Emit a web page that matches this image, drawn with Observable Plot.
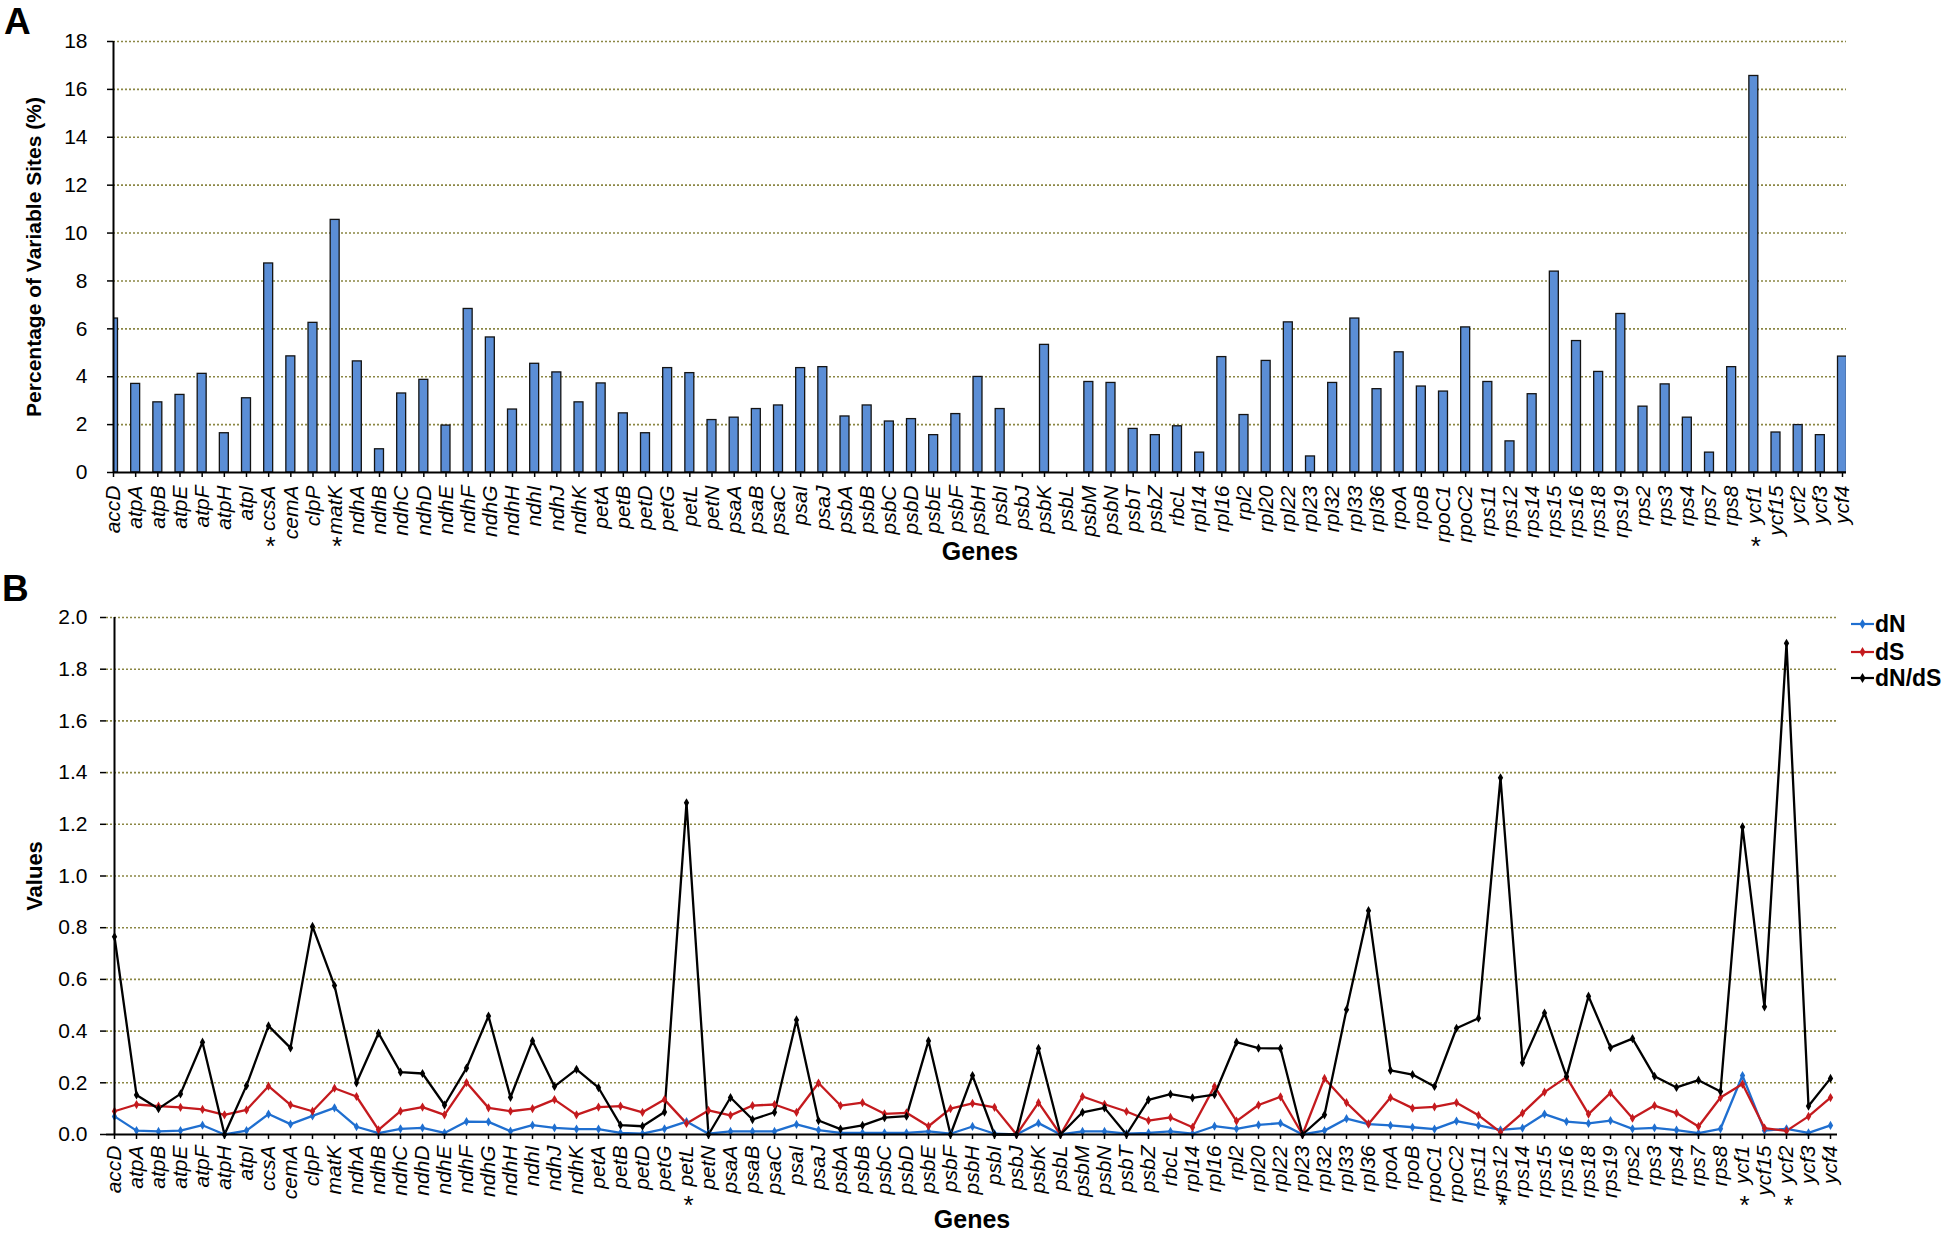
<!DOCTYPE html>
<html><head><meta charset="utf-8">
<script src="https://cdn.jsdelivr.net/npm/d3@7"></script>
<script src="https://cdn.jsdelivr.net/npm/@observablehq/plot@0.6"></script>
<style>
html,body{margin:0;padding:0;background:#fff;}
body{width:1946px;height:1235px;overflow:hidden;position:relative;font-family:"Liberation Sans",Arial,sans-serif;}
#a{position:absolute;left:0;top:0}
#b{position:absolute;left:0;top:565px}
.plabel{position:absolute;font-weight:bold;font-size:37px;line-height:1;color:#000}
#legend{position:absolute;left:1846px;top:605px}
g[aria-label="x-axis tick label"] text{font-style:italic}
</style>
</head><body>
<div id="a"></div>
<div id="b"></div>
<div class="plabel" style="left:4px;top:3px">A</div>
<div class="plabel" style="left:2px;top:570px">B</div>
<svg id="legend" width="100" height="90"></svg>
<script>
const genes = ["accD","atpA","atpB","atpE","atpF","atpH","atpI","ccsA","cemA","clpP","matK","ndhA","ndhB","ndhC","ndhD","ndhE","ndhF","ndhG","ndhH","ndhI","ndhJ","ndhK","petA","petB","petD","petG","petL","petN","psaA","psaB","psaC","psaI","psaJ","psbA","psbB","psbC","psbD","psbE","psbF","psbH","psbI","psbJ","psbK","psbL","psbM","psbN","psbT","psbZ","rbcL","rpl14","rpl16","rpl2","rpl20","rpl22","rpl23","rpl32","rpl33","rpl36","rpoA","rpoB","rpoC1","rpoC2","rps11","rps12","rps14","rps15","rps16","rps18","rps19","rps2","rps3","rps4","rps7","rps8","ycf1","ycf15","ycf2","ycf3","ycf4"];

// Panel A: percentage of variable sites (%)
const variableSites = [6.43,3.70,2.93,3.24,4.12,1.64,3.10,8.73,4.85,6.25,10.55,4.64,0.97,3.30,3.87,1.96,6.83,5.64,2.63,4.54,4.18,2.93,3.72,2.47,1.64,4.36,4.15,2.19,2.29,2.65,2.80,4.36,4.40,2.34,2.80,2.13,2.23,1.56,2.44,3.99,2.65,0,5.33,0,3.78,3.74,1.82,1.56,1.93,0.83,4.82,2.40,4.66,6.27,0.67,3.74,6.43,3.48,5.02,3.59,3.38,6.06,3.78,1.30,3.27,8.39,5.49,4.20,6.62,2.75,3.68,2.29,0.83,4.40,16.56,1.67,1.98,1.56,4.84];

// Panel B
const dN = [0.070,0.015,0.012,0.015,0.036,0,0.015,0.079,0.040,0.072,0.103,0.030,0.005,0.022,0.026,0.006,0.050,0.049,0.013,0.036,0.026,0.021,0.021,0.006,0.003,0.022,0.050,0.003,0.012,0.012,0.012,0.039,0.017,0.006,0.006,0.006,0.006,0.012,0.003,0.031,0.003,0,0.044,0,0.012,0.012,0.003,0.006,0.012,0.003,0.032,0.022,0.037,0.044,0,0.015,0.061,0.040,0.035,0.028,0.021,0.052,0.035,0.018,0.025,0.079,0.050,0.043,0.054,0.022,0.026,0.017,0.005,0.022,0.228,0.015,0.022,0.006,0.035];
const dS = [0.090,0.116,0.110,0.105,0.097,0.076,0.095,0.187,0.115,0.090,0.179,0.147,0.018,0.090,0.106,0.076,0.201,0.103,0.090,0.100,0.135,0.076,0.106,0.110,0.086,0.135,0.043,0.093,0.074,0.112,0.116,0.086,0.199,0.112,0.123,0.080,0.084,0.032,0.100,0.120,0.105,0,0.123,0,0.147,0.117,0.089,0.054,0.066,0.028,0.186,0.052,0.114,0.146,0,0.217,0.123,0.041,0.143,0.102,0.107,0.123,0.074,0.009,0.083,0.164,0.222,0.079,0.161,0.063,0.112,0.083,0.031,0.143,0.195,0.025,0.014,0.070,0.143];
const dNdS = [0.765,0.153,0.100,0.157,0.357,0,0.189,0.420,0.335,0.805,0.576,0.200,0.392,0.241,0.236,0.114,0.257,0.458,0.144,0.362,0.186,0.252,0.181,0.036,0.032,0.087,1.283,0,0.143,0.058,0.086,0.443,0.054,0.021,0.035,0.065,0.071,0.362,0,0.228,0,0,0.333,0,0.086,0.103,0,0.134,0.156,0.142,0.154,0.357,0.334,0.333,0,0.076,0.483,0.866,0.248,0.232,0.186,0.411,0.450,1.380,0.278,0.470,0.224,0.535,0.336,0.371,0.225,0.182,0.210,0.166,1.190,0.494,1.900,0.110,0.217];

const starsA = ["ccsA","matK","ycf1"];
const starsB = ["petL","rps12","ycf1","ycf2"];
const yTicksA = [0,2,4,6,8,10,12,14,16,18];
const yTicksB = [0,0.2,0.4,0.6,0.8,1.0,1.2,1.4,1.6,1.8,2.0];

const seriesNames = ["dN","dS","dN/dS"];
const seriesColors = ["#1f6fd0","#c41a1e","#000000"];

const FONT = "Liberation Sans, Arial, sans-serif";
const GRID = "#8b8744";

// ---------- Panel A ----------
const rowsA = genes.map((g, i) => ({gene: g, value: variableSites[i]}));
const W = 1946;
const aLeft = 113, aRight = 1842;
const stepA = (aRight - aLeft) / (genes.length - 1);

const chartA = Plot.plot({
  width: W, height: 565,
  marginTop: 41, marginBottom: 93, marginLeft: aLeft, marginRight: W - (aRight + 4),
  style: {fontFamily: FONT, fontSize: "21px", color: "#000", background: "transparent", overflow: "visible"},
  x: {type: "band", domain: genes, range: [aLeft - stepA / 2, aRight + stepA / 2], padding: 0, round: false},
  y: {domain: [0, 18]},
  marks: [
    Plot.gridY(yTicksA.filter(d => d > 0), {stroke: GRID, strokeOpacity: 1, strokeWidth: 1.6, strokeDasharray: "2,2"}),
    Plot.barY(rowsA, {x: "gene", y: "value", fill: "#5b8ed6", stroke: "#141414", strokeWidth: 1.3, insetLeft: 6.6, insetRight: 6.6, clip: true}),
    Plot.ruleY([0], {stroke: "#000", strokeWidth: 2}),
    Plot.ruleX(["accD"], {x: d => d, stroke: "#000", strokeWidth: 2}),
    Plot.axisY({ticks: yTicksA, tickSize: 6, tickPadding: 20, fontSize: 21, label: null, strokeWidth: 1.5}),
    Plot.axisX({tickRotate: -90, tickSize: 5, tickPadding: 8, fontSize: 21, fontStyle: "italic", label: null, strokeWidth: 1.5}),
    Plot.text(starsA, {x: d => d, text: () => "*", frameAnchor: "bottom", dy: 82, dx: 2, fontSize: 26}),
    Plot.text(["Genes"], {text: d => d, frameAnchor: "bottom", dy: 87, fontSize: 25, fontWeight: "bold"}),
    Plot.text(["Percentage of Variable Sites (%)"], {text: d => d, frameAnchor: "left", textAnchor: "middle", dx: -79, rotate: -90, fontSize: 21, fontWeight: "bold"})
  ]
});
document.getElementById("a").appendChild(chartA);

// ---------- Panel B ----------
const rowsB = [];
genes.forEach((g, i) => {
  rowsB.push({gene: g, series: "dN", value: dN[i]});
  rowsB.push({gene: g, series: "dS", value: dS[i]});
  rowsB.push({gene: g, series: "dN/dS", value: dNdS[i]});
});
const bLeft = 106, bRight = 1837;

const chartB = Plot.plot({
  width: W, height: 670,
  marginTop: 52, marginBottom: 101, marginLeft: bLeft, marginRight: W - bRight,
  style: {fontFamily: FONT, fontSize: "21px", color: "#000", background: "transparent", overflow: "visible"},
  x: {type: "point", domain: genes, padding: 0},
  y: {domain: [0, 2]},
  color: {domain: seriesNames, range: seriesColors},
  marks: [
    Plot.gridY(yTicksB.filter(d => d > 0), {stroke: GRID, strokeOpacity: 1, strokeWidth: 1.6, strokeDasharray: "2,2"}),
    Plot.lineY(rowsB, {x: "gene", y: "value", z: "series", stroke: "series", strokeWidth: 2.3, strokeLinejoin: "miter"}),
    Plot.dot(rowsB, {x: "gene", y: "value", fill: "series", r: 2.8, symbol: "diamond"}),
    Plot.ruleY([0], {stroke: "#000", strokeWidth: 2}),
    Plot.ruleX(["accD"], {x: d => d, stroke: "#000", strokeWidth: 2}),
    Plot.axisY({ticks: yTicksB, tickFormat: d3.format(".1f"), tickSize: 6, tickPadding: 13, fontSize: 21, label: null, strokeWidth: 1.5}),
    Plot.axisX({tickRotate: -90, tickSize: 5, tickPadding: 6, fontSize: 21, fontStyle: "italic", label: null, strokeWidth: 1.5}),
    Plot.text(starsB, {x: d => d, text: () => "*", frameAnchor: "bottom", dy: 79, dx: 2, fontSize: 26}),
    Plot.text(["Genes"], {text: d => d, frameAnchor: "bottom", dy: 93, fontSize: 25, fontWeight: "bold"}),
    Plot.text(["Values"], {text: d => d, frameAnchor: "left", textAnchor: "middle", dx: -72, rotate: -90, fontSize: 22, fontWeight: "bold"})
  ]
});
document.getElementById("b").appendChild(chartB);

// ---------- Legend ----------
const lg = d3.select("#legend");
const rowY = [19, 47, 73];
seriesNames.forEach((name, i) => {
  const g = lg.append("g").attr("transform", `translate(0,${rowY[i]})`);
  g.append("line").attr("x1", 5).attr("x2", 28).attr("y1", 0).attr("y2", 0)
    .attr("stroke", seriesColors[i]).attr("stroke-width", 2.2);
  g.append("path").attr("d", d3.symbol(d3.symbolDiamond, 30)()).attr("transform", "translate(16.5,0)").attr("fill", seriesColors[i]);
  g.append("text").attr("x", 29).attr("y", 8).text(name)
    .attr("font-family", FONT).attr("font-size", 23).attr("font-weight", "bold").attr("fill", "#000");
});
</script>
</body></html>
